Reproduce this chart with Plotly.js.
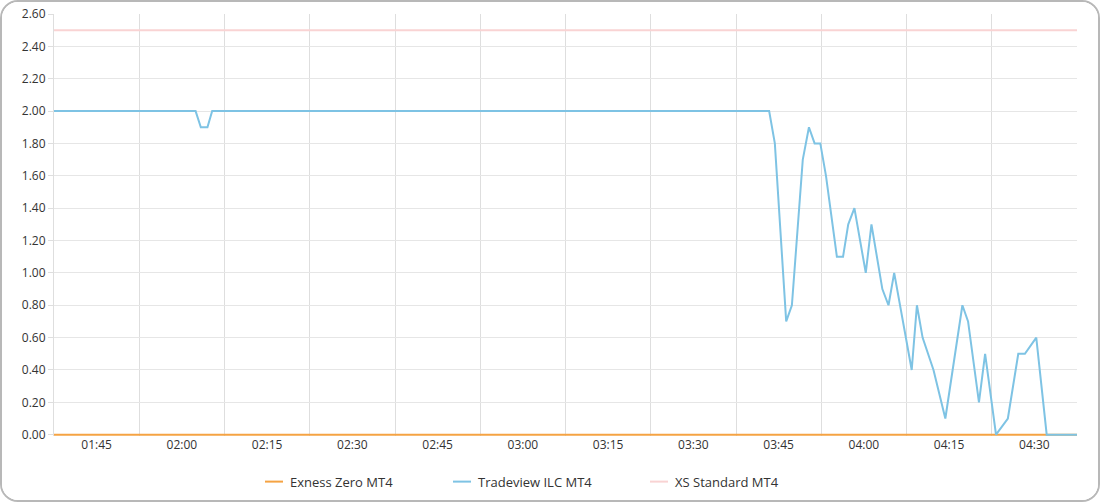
<!DOCTYPE html>
<html>
<head>
<meta charset="utf-8">
<script src="https://cdn.plot.ly/plotly-3.0.1.min.js"></script>
<style>
html,body{margin:0;padding:0;background:#fff;}
#wrap{box-sizing:border-box;width:1100px;height:502px;border:2px solid #b8b8b8;border-radius:18px;overflow:hidden;background:#fff;}
#chart{width:1096px;height:498px;}
</style>
</head>
<body>
<div id="wrap"><div id="chart"></div></div>
<script>
// Series data
const exnessTimes = ['2024-01-01 01:37:30', '2024-01-01 04:37:30'];
const exnessValues = [0, 0];

const xsTimes = ['2024-01-01 01:37:30', '2024-01-01 04:37:30'];
const xsValues = [2.5, 2.5];

const tradeviewTimes = [
  '2024-01-01 01:37:30', '2024-01-01 02:02:25', '2024-01-01 02:03:20', '2024-01-01 02:04:30',
  '2024-01-01 02:05:20', '2024-01-01 03:43:20', '2024-01-01 03:44:20', '2024-01-01 03:46:20',
  '2024-01-01 03:47:20', '2024-01-01 03:49:15', '2024-01-01 03:50:20', '2024-01-01 03:51:20',
  '2024-01-01 03:52:20', '2024-01-01 03:53:20', '2024-01-01 03:55:15', '2024-01-01 03:56:20',
  '2024-01-01 03:57:15', '2024-01-01 03:58:20', '2024-01-01 04:00:20', '2024-01-01 04:01:20',
  '2024-01-01 04:03:15', '2024-01-01 04:04:20', '2024-01-01 04:05:20', '2024-01-01 04:08:25',
  '2024-01-01 04:09:20', '2024-01-01 04:10:20', '2024-01-01 04:12:15', '2024-01-01 04:14:20',
  '2024-01-01 04:17:20', '2024-01-01 04:18:20', '2024-01-01 04:20:15', '2024-01-01 04:21:20',
  '2024-01-01 04:23:15', '2024-01-01 04:25:20', '2024-01-01 04:27:10', '2024-01-01 04:28:20',
  '2024-01-01 04:30:20', '2024-01-01 04:32:10', '2024-01-01 04:37:30'
];
const tradeviewValues = [
  2.00, 2.00, 1.90, 1.90,
  2.00, 2.00, 1.80, 0.70,
  0.80, 1.70, 1.90, 1.80,
  1.80, 1.60, 1.10, 1.10,
  1.30, 1.40, 1.00, 1.30,
  0.90, 0.80, 1.00, 0.40,
  0.80, 0.60, 0.40, 0.10,
  0.80, 0.70, 0.20, 0.50,
  0.00, 0.10, 0.50, 0.50,
  0.60, 0.00, 0.00
];

const seriesNames = ['Exness Zero MT4', 'Tradeview ILC MT4', 'XS Standard MT4'];
const seriesColors = ['#f5a343', '#7ec3e4', '#f9d3d3'];

const xRange = ['2024-01-01 01:37:30', '2024-01-01 04:37:30'];
const yTicks = [0, 0.2, 0.4, 0.6, 0.8, 1.0, 1.2, 1.4, 1.6, 1.8, 2.0, 2.2, 2.4, 2.6];

const FONT = '"Open Sans", "Noto Sans", sans-serif';

const traces = [
  {x: exnessTimes, y: exnessValues, name: seriesNames[0], type: 'scatter', mode: 'lines',
   line: {color: seriesColors[0], width: 2}},
  {x: tradeviewTimes, y: tradeviewValues, name: seriesNames[1], type: 'scatter', mode: 'lines',
   line: {color: seriesColors[1], width: 2}},
  {x: xsTimes, y: xsValues, name: seriesNames[2], type: 'scatter', mode: 'lines',
   line: {color: seriesColors[2], width: 2}}
];

// Custom legend (layout only): plot area spans page px 54..1077 horizontally, 14..435 vertically
const plotL = 54, plotW = 1023, plotB = 435, plotH = 421;
const toPX = px => (px - plotL) / plotW;
const toPY = py => (plotB - py) / plotH;
const legendStarts = [265, 453, 650];
const legendY = 480.5;
const shapes = [], annotations = [];
seriesNames.forEach((nm, i) => {
  shapes.push({type: 'line', xref: 'paper', yref: 'paper',
    x0: toPX(legendStarts[i]), x1: toPX(legendStarts[i] + 18), y0: toPY(legendY), y1: toPY(legendY),
    line: {color: seriesColors[i], width: 2}});
  annotations.push({xref: 'paper', yref: 'paper', x: toPX(legendStarts[i] + 23), y: toPY(legendY),
    xanchor: 'left', yanchor: 'middle', showarrow: false, text: nm,
    font: {family: FONT, size: 13, color: '#333333'}});
});

const layout = {
  width: 1096, height: 498,
  margin: {l: 52, r: 21, t: 12, b: 64},
  paper_bgcolor: '#ffffff', plot_bgcolor: '#ffffff',
  font: {family: FONT, size: 12, color: '#333333'},
  showlegend: false,
  shapes: shapes, annotations: annotations,
  xaxis: {
    type: 'date', range: xRange,
    tick0: '2024-01-01 01:45:00', dtick: 900000, tickformat: '%H:%M',
    showgrid: false, zeroline: false, showline: false, ticks: '',
    minor: {tick0: '2024-01-01 01:37:30', dtick: 900000, showgrid: true, gridcolor: '#dedede', gridwidth: 1},
    tickfont: {family: FONT, size: 12, color: '#333333'}
  },
  yaxis: {
    range: [-0.008, 2.6], tickvals: yTicks, tickformat: '.2f',
    showgrid: true, gridcolor: '#e6e6e6', gridwidth: 1,
    zeroline: false, showline: true, linecolor: '#dedede', linewidth: 1,
    ticks: 'outside', ticklen: 5, tickcolor: '#dedede',
    tickfont: {family: FONT, size: 12, color: '#333333'}
  }
};

Plotly.newPlot('chart', traces, layout, {displayModeBar: false, staticPlot: true});
</script>
</body>
</html>
